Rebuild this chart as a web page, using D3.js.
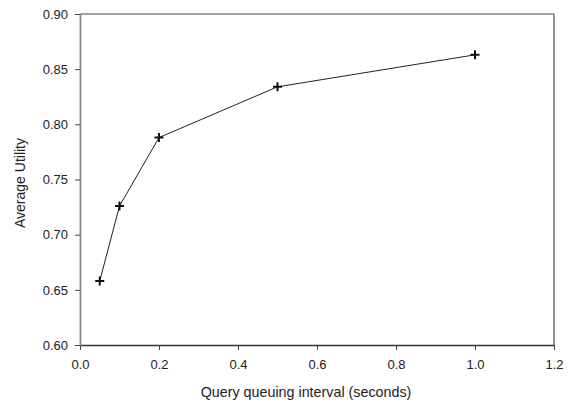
<!DOCTYPE html>
<html>
<head>
<meta charset="utf-8">
<script src="https://cdn.jsdelivr.net/npm/d3@7"></script>
<style>
  body { margin: 0; background: #fff; }
  text { font-family: "Liberation Sans", Arial, sans-serif; fill: #222; }
</style>
</head>
<body>
<svg id="chart"></svg>
<script>
// data
const intervals = [0.05, 0.1, 0.2, 0.5, 1.0];
const utility = [0.658, 0.726, 0.788, 0.834, 0.863];
const xTicks = [0, 0.2, 0.4, 0.6, 0.8, 1.0, 1.2];
const yTicks = [0.60, 0.65, 0.70, 0.75, 0.80, 0.85, 0.90];

const width = 570, height = 402;
const margin = { top: 14, right: 16, bottom: 57, left: 80 };
const w = width - margin.left - margin.right;
const h = height - margin.top - margin.bottom;

const svg = d3.select("#chart").attr("width", width).attr("height", height);
const g = svg.append("g").attr("transform", `translate(${margin.left},${margin.top})`);

const x = d3.scaleLinear().domain([0, 1.2]).range([0, w]);
const y = d3.scaleLinear().domain([0.6, 0.9]).range([h, 0]);

// frame: top + right
g.append("line").attr("x1", 0).attr("x2", w).attr("y1", 0).attr("y2", 0)
    .attr("stroke", "#444").attr("stroke-width", 1.2);
g.append("line").attr("x1", w).attr("x2", w).attr("y1", 0).attr("y2", h)
    .attr("stroke", "#888").attr("stroke-width", 1.8);

const xAxis = g.append("g").attr("transform", `translate(0,${h})`)
    .call(d3.axisBottom(x).tickValues(xTicks).tickFormat(d3.format(".1f")).tickSize(5).tickSizeOuter(0));
const yAxis = g.append("g")
    .call(d3.axisLeft(y).tickValues(yTicks).tickFormat(d3.format(".2f")).tickSize(5).tickSizeOuter(0));

xAxis.select(".domain").attr("stroke", "#333").attr("stroke-width", 1.3);
yAxis.select(".domain").attr("stroke", "#888").attr("stroke-width", 1.8);
[xAxis, yAxis].forEach(a => {
    a.selectAll(".tick line").attr("stroke", "#444");
    a.selectAll(".tick text").attr("font-size", 13)
        .attr("font-family", "Liberation Sans, Arial, sans-serif").attr("fill", "#222");
});
xAxis.selectAll(".tick text").attr("dy", "1.2em");
yAxis.selectAll(".tick text").attr("x", -12);

const pts = intervals.map((d, i) => [d, utility[i]]);
g.append("path").datum(pts)
    .attr("fill", "none").attr("stroke", "#222").attr("stroke-width", 1)
    .attr("d", d3.line().x(d => x(d[0])).y(d => y(d[1])));

g.selectAll(".mk").data(pts).join("path")
    .attr("class", "mk")
    .attr("transform", d => `translate(${x(d[0])},${y(d[1])})`)
    .attr("d", "M-4.5,0H4.5M0,-4.5V4.5")
    .attr("stroke", "#111").attr("stroke-width", 2);

svg.append("text").attr("x", 306).attr("y", 397)
    .attr("text-anchor", "middle").attr("font-size", 14.3).text("Query queuing interval (seconds)");
svg.append("text").attr("transform", `translate(25,183) rotate(-90)`)
    .attr("text-anchor", "middle").attr("font-size", 14).text("Average Utility");
</script>
</body>
</html>
